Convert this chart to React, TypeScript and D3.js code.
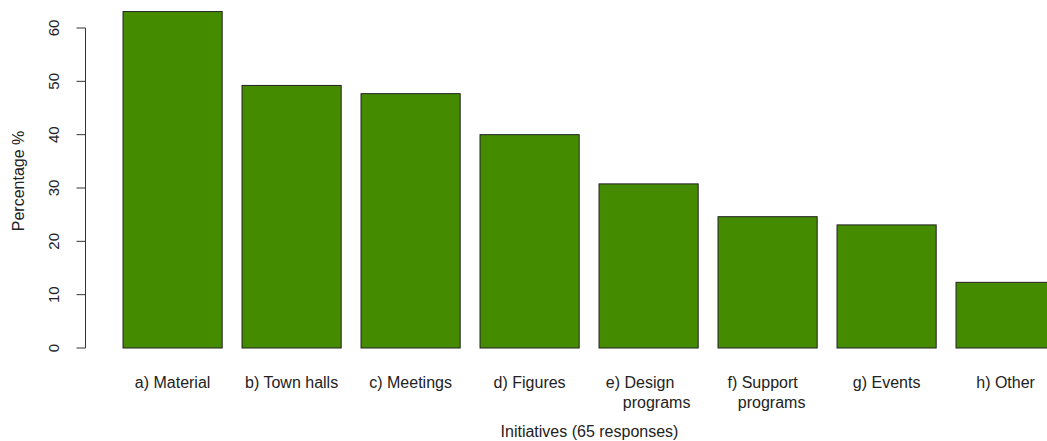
import React from "react";
import * as d3 from "d3";

const categories = ["a", "b", "c", "d", "e", "f", "g", "h"];
const labelLines: string[][] = [
  ["a) Material"],
  ["b) Town halls"],
  ["c) Meetings"],
  ["d) Figures"],
  ["e) Design", "programs"],
  ["f) Support", "programs"],
  ["g) Events"],
  ["h) Other"],
];
const values = [63.08, 49.23, 47.69, 40.0, 30.77, 24.62, 23.08, 12.31];
const yTicks = [0, 10, 20, 30, 40, 50, 60];
const xTitle = "Initiatives (65 responses)";
const yTitle = "Percentage %";

// per-line horizontal nudges for the two-line labels (R-style padded strings)
const lineDx: Record<number, number[]> = { 4: [-8.5, 8], 5: [-5, 4] };

export default function App() {
  const W = 1047;
  const H = 441;
  const font = "'Liberation Sans', Arial, Helvetica, sans-serif";
  const x = d3
    .scaleBand<string>()
    .domain(categories)
    .range([113.1, 1065.1])
    .paddingInner(1 / 6)
    .paddingOuter(1 / 12);
  const y = d3.scaleLinear().domain([0, 60]).range([348, 28]);
  const axisX = 85.5;

  return (
    <svg
      width={W}
      height={H}
      style={{ position: "absolute", left: 0, top: 0, background: "#fff" }}
      fontFamily={font}
    >
      {categories.map((c, i) => (
        <rect
          key={c}
          x={x(c)!}
          y={y(values[i])}
          width={x.bandwidth()}
          height={y(0) - y(values[i])}
          fill="#458B00"
          stroke="#222"
          strokeWidth={1}
        />
      ))}
      <line x1={axisX} x2={axisX} y1={y(0)} y2={y(60)} stroke="#333" />
      {yTicks.map((t) => (
        <g key={t}>
          <line x1={axisX - 9} x2={axisX} y1={y(t)} y2={y(t)} stroke="#333" />
          <text
            transform={`translate(59,${y(t)}) rotate(-90)`}
            textAnchor="middle"
            fontSize={15}
            fill="#222"
          >
            {t}
          </text>
        </g>
      ))}
      {categories.map((c, i) => {
        const cx = x(c)! + x.bandwidth() / 2;
        return labelLines[i].map((ln, j) => (
          <text
            key={c + j}
            x={cx + (lineDx[i] ? lineDx[i][j] : 0)}
            y={388 + j * 19.5}
            textAnchor="middle"
            fontSize={16}
            fill="#222"
          >
            {ln}
          </text>
        ));
      })}
      <text x={589.5} y={437} textAnchor="middle" fontSize={16} fill="#222">
        {xTitle}
      </text>
      <text
        transform={`translate(24,181) rotate(-90)`}
        textAnchor="middle"
        fontSize={16}
        fill="#222"
      >
        {yTitle}
      </text>
    </svg>
  );
}
